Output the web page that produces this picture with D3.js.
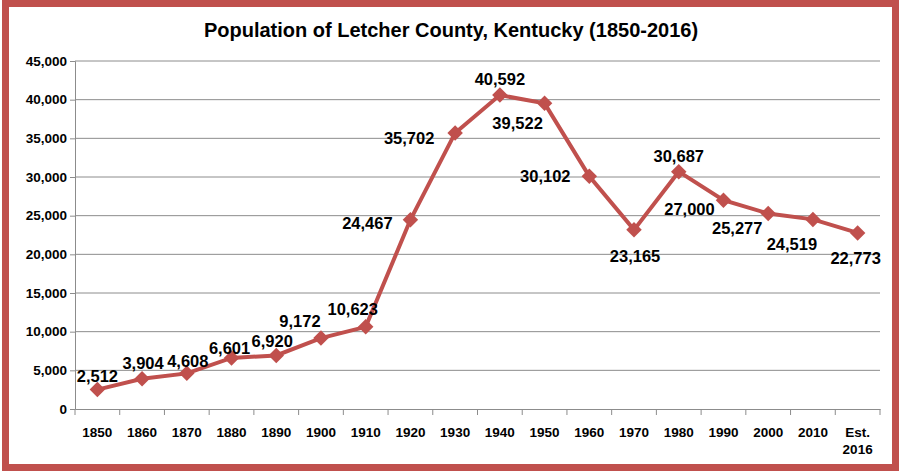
<!DOCTYPE html>
<html><head><meta charset="utf-8">
<script src="https://cdn.jsdelivr.net/npm/d3@7"></script>
<style>body{margin:0;background:#fff}text{font-family:"Liberation Sans",Arial,sans-serif;font-weight:bold}</style>
</head><body><svg id="c" width="902" height="475"></svg>
<script>
var years = ["1850","1860","1870","1880","1890","1900","1910","1920","1930","1940","1950","1960","1970","1980","1990","2000","2010","Est. 2016"];
var population = [2512,3904,4608,6601,6920,9172,10623,24467,35702,40592,39522,30102,23165,30687,27000,25277,24519,22773];
var yTicks = [0,5000,10000,15000,20000,25000,30000,35000,40000,45000];
// label offsets relative to the marker
var labelDx = [0,1,1,-2,-4,-21,-13,-43,-46,0,-27,-44,1,0,-34,-31,-21,-2];
var labelDy = [-14,-16,-12,-10,-14,-17,-18,3,5,-16,20,0,26,-16,9,14,25,25];

var svg = d3.select("#c"), red = "#c0504d";
var x = d3.scaleBand().domain(years).range([75, 880]);
var y = d3.scaleLinear().domain([0, 45000]).range([409, 61]);

svg.append("rect").attr("x",5.5).attr("y",3.5).attr("width",890).attr("height",464)
  .attr("fill","none").attr("stroke",red).attr("stroke-width",7);

svg.append("text").attr("x",451).attr("y",37).attr("text-anchor","middle")
  .style("font-size","20px").text("Population of Letcher County, Kentucky (1850-2016)");

svg.append("g").selectAll("line").data(yTicks.slice(1)).join("line")
  .attr("x1",75).attr("x2",880).attr("y1",d=>y(d)).attr("y2",d=>y(d)).attr("stroke","#8c8c8c");

svg.append("g").attr("transform","translate(75,0)")
  .call(d3.axisLeft(y).tickValues(yTicks).tickFormat(d3.format(",")).tickSize(5))
  .call(g=>{g.select(".domain").attr("stroke","#8c8c8c");g.selectAll("line").attr("stroke","#8c8c8c");
    g.selectAll("text").style("font-size","13.5px").attr("fill","#000");});

var xa = svg.append("g").attr("transform","translate(0,409)")
  .call(d3.axisBottom(x).tickSize(0).tickFormat(""));
xa.select(".domain").attr("stroke","#8c8c8c");
xa.selectAll(".b").data(years.concat([null])).join("line")
  .attr("x1",(d,i)=>75+i*x.bandwidth()).attr("x2",(d,i)=>75+i*x.bandwidth())
  .attr("y1",0).attr("y2",6).attr("stroke","#8c8c8c");
years.forEach(function(d){
  var parts = d.split(" ");
  var t = svg.append("text").attr("x",x(d)+x.bandwidth()/2).attr("y",437)
    .attr("text-anchor","middle").style("font-size","13.5px");
  parts.forEach(function(p,i){ t.append("tspan").attr("x",x(d)+x.bandwidth()/2).attr("dy",i?17:0).text(p); });
});

var cx = d => x(d)+x.bandwidth()/2;
svg.append("path").datum(population)
  .attr("d", d3.line().x((d,i)=>cx(years[i])).y(d=>y(d)))
  .attr("fill","none").attr("stroke",red).attr("stroke-width",4);

svg.append("g").selectAll("path").data(population).join("path")
  .attr("d", d3.symbol(d3.symbolSquare, 120))
  .attr("transform",(d,i)=>"translate("+cx(years[i])+","+y(d)+") rotate(45)").attr("fill",red);

svg.append("g").selectAll("text").data(population).join("text")
  .attr("x",(d,i)=>cx(years[i])+labelDx[i]).attr("y",(d,i)=>y(d)+labelDy[i]+6)
  .attr("text-anchor","middle").style("font-size","16.5px")
  .text(d=>d3.format(",")(d));
</script></body></html>
